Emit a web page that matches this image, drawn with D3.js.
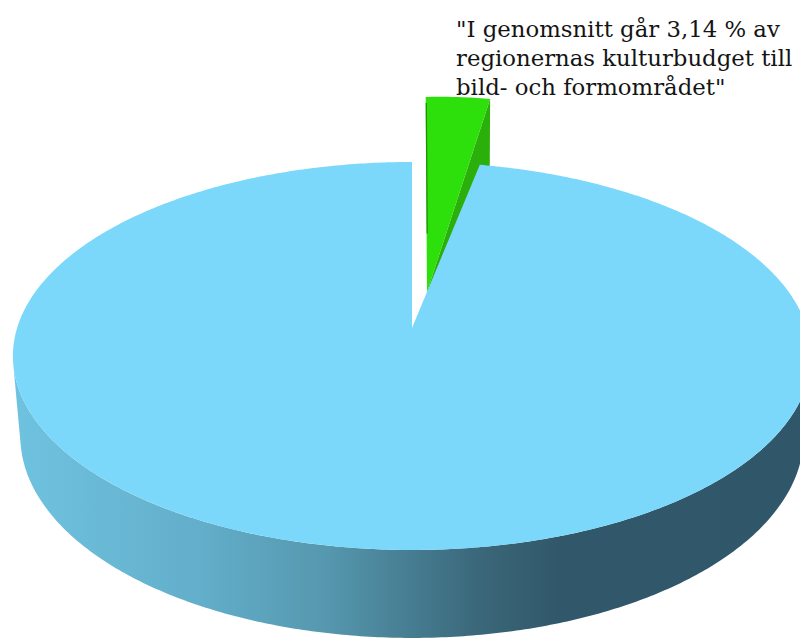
<!DOCTYPE html>
<html><head><meta charset="utf-8">
<script src="https://cdn.jsdelivr.net/npm/d3@7"></script>
<style>html,body{margin:0;padding:0;background:#fff;overflow:hidden}</style>
</head><body>
<svg id="c" width="800" height="639"></svg>
<script>
// ---- data ----
const categories = ["Bild- och formområdet", "Övrig kultur"];
const values = [3.14, 96.86];
const topColors = ["#2ee00b", "#7bd8fa"];
const sideColors = ["#2bb00b", "#5aa3bd"];
const labelLines = ["\"I genomsnitt går 3,14 % av", "regionernas kulturbudget till", "bild- och formområdet\""];

// ---- 3D perspective setup ----
const svg = d3.select("#c");
const R = 1, T = 0.234;
const sinP = 0.481, cosP = Math.sqrt(1 - sinP * sinP);
const cam = { cx: 412, cy: 328, F: 2401, L: 6.08 };
const Dc = cam.L * cosP;
function proj(X, Y, Z) {
  const D = cam.L - Y * sinP + Z * cosP;
  const U = Y * cosP + Z * sinP;
  return [cam.cx + cam.F * X / D, cam.cy - cam.F * U / D];
}
const rim = (a, y) => proj(R * Math.sin(a), y, R * Math.cos(a));
function arcPts(a0, a1, y) {
  const n = Math.max(2, Math.ceil(Math.abs(a1 - a0) / 0.01));
  return d3.range(n + 1).map(i => rim(a0 + (a1 - a0) * i / n, y));
}
// exploded slice screen transform
const explode = { dx: 15, dy: -36, sx: 0.95, sy: 1.175, shx: 0.008, shy: -0.02 };
const ex = p => [cam.cx + explode.dx + explode.sx * (p[0] - cam.cx) + explode.shx * (p[1] - cam.cy),
                 cam.cy + explode.dy + explode.sy * (p[1] - cam.cy) + explode.shy * (p[0] - cam.cx)];

const pie = d3.pie().sort(null).value(d => d)(values);
const line = d3.line();

// gradient for the blue wall
const defs = svg.append("defs");
const grad = defs.append("linearGradient").attr("id", "wallGrad")
  .attr("gradientUnits", "userSpaceOnUse").attr("x1", 13).attr("x2", 811).attr("y1", 0).attr("y2", 0);
[[0, "#6fc3e0"], [0.234, "#63aeca"], [0.397, "#5597ae"], [0.485, "#488095"], [0.585, "#3a6779"], [0.685, "#31586a"], [1, "#30566a"]]
  .forEach(s => grad.append("stop").attr("offset", s[0]).attr("stop-color", s[1]));

const thL = Math.acos(-1 / Dc), thR = 2 * Math.PI - thL;

// draw exploded (small) slice first, it sits behind
pie.forEach((s, i) => {
  if (i !== 0) return;
  const a0 = s.startAngle, a1 = s.endAngle;
  const g = svg.append("g");
  // right cut face
  const face = [proj(0, 0, 0), rim(a1, 0), rim(a1, -T), proj(0, -T, 0)].map(ex);
  g.append("path").attr("d", line(face) + "Z").attr("fill", sideColors[i]);
  // top face
  const top = [proj(0, 0, 0), ...arcPts(a0, a1, 0)].map(ex);
  g.append("path").attr("d", line(top) + "Z").attr("fill", topColors[i]);
  // left edge shading
  const le = [rim(a0, 0), proj(0, 0, 0)].map(ex);
  const mid = [le[0][0] + (le[1][0] - le[0][0]) * 0.7, le[0][1] + (le[1][1] - le[0][1]) * 0.7];
  g.append("path").attr("d", line([[le[0][0] + 0.6, le[0][1] + 6], [mid[0] + 0.6, mid[1]]]))
    .attr("stroke", "#1d7a07").attr("stroke-width", 1.3).attr("fill", "none").attr("opacity", 0.8);
});

// big slice
pie.forEach((s, i) => {
  if (i === 0) return;
  const a0 = s.startAngle, a1 = s.endAngle;
  const g = svg.append("g");
  const w0 = Math.max(a0, thL), w1 = Math.min(a1, thR);
  if (w1 > w0) {
    const wall = [...arcPts(w0, w1, 0), ...arcPts(w1, w0, -T)];
    g.append("path").attr("d", line(wall) + "Z").attr("fill", "url(#wallGrad)");
  }
  const top = [proj(0, 0, 0), ...arcPts(a0, a1, 0)];
  g.append("path").attr("d", line(top) + "Z").attr("fill", topColors[i]);
});

// label
const txt = svg.append("text").attr("x", 456).attr("y", 36.5)
  .attr("font-family", "'DejaVu Serif', Georgia, serif").attr("font-size", 22.8).attr("fill", "#141414");
labelLines.forEach((t, k) => txt.append("tspan").attr("x", 456).attr("y", 36.5 + k * 29).text(t));
</script>
</body></html>
